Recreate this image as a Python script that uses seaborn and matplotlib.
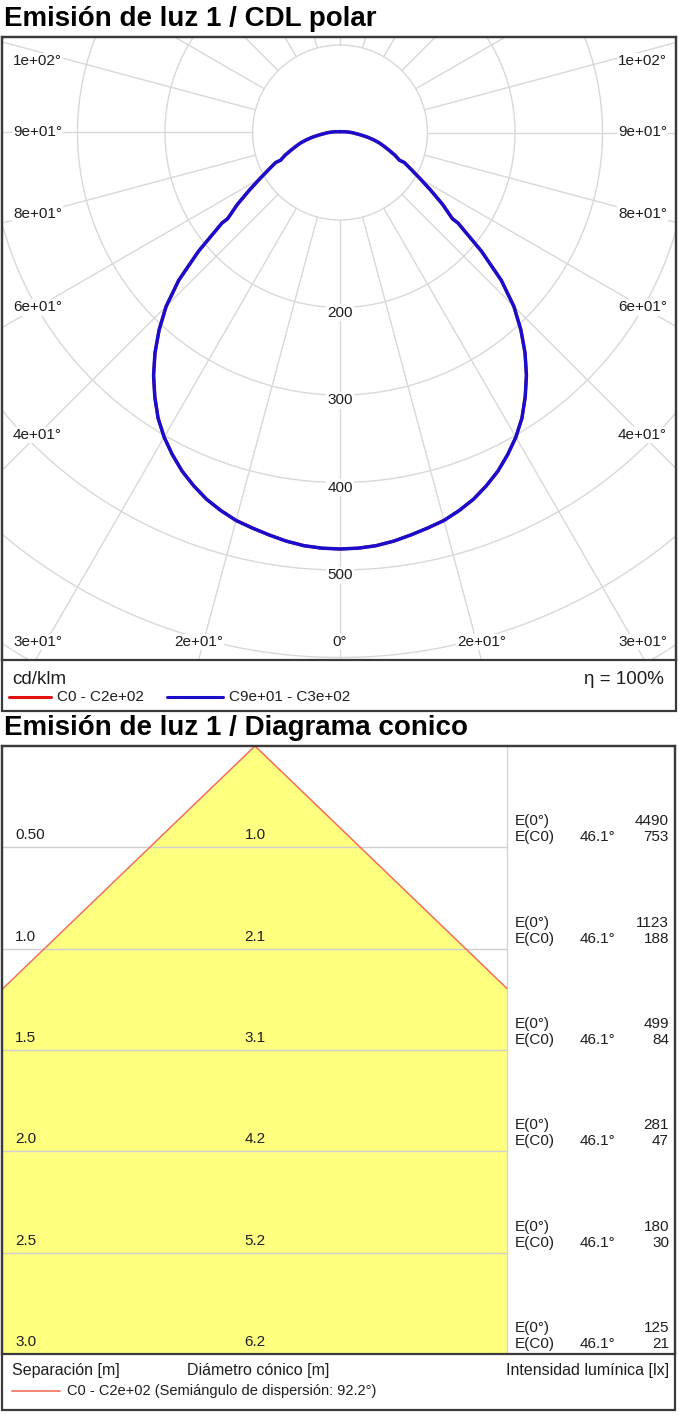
import numpy as np
import matplotlib
matplotlib.use('Agg')
import matplotlib.pyplot as plt
from matplotlib.lines import Line2D
from matplotlib.patches import Rectangle
import seaborn as sns

# polar curve, cd/klm against gamma angle (deg); C0-C180 and C90-C270 coincide
gamma = [0, 2.5, 5, 7.5, 10, 12.5, 15, 17.5, 20, 22.5, 25, 27.5, 30, 32.5, 35,
         37.5, 40, 42.5, 45, 47.5, 50, 52.5, 52.5, 55, 57.5, 60, 62.5, 65, 65,
         67.5, 70, 72.5, 75, 77.5, 80, 82.5, 85, 87.5, 90, 92.5, 95, 100, 110,
         130, 180]
intensity = [476, 475.5, 474, 471, 467, 463, 459, 453, 446, 437, 427, 415, 402,
             387, 369, 350, 329, 306, 281, 250, 211, 170, 162, 143, 123, 106, 92,
             81, 75, 68, 60, 53, 47, 40, 33, 26, 20, 16, 13, 10, 8, 5, 2.5,
             1.5, 1]
grid_radii = [100, 200, 300, 400, 500, 600, 700]
radial_labels = [200, 300, 400, 500]
angle_ticks = [0, 15, 30, 45, 60, 75, 90, 105]

# cone diagram
half_angle = 46.1
spread = 92.2
heights = [0.5, 1.0, 1.5, 2.0, 2.5, 3.0]
height_labels = ['0.50', '1.0', '1.5', '2.0', '2.5', '3.0']
diameters = ['1.0', '2.1', '3.1', '4.2', '5.2', '6.2']
e_center = [4490, 1123, 499, 281, 180, 125]
e_c0 = [753, 188, 84, 47, 30, 21]

sns.set_theme(style='white')
plt.rcParams['font.family'] = ['Liberation Sans', 'DejaVu Sans']

W, H = 679, 1422
fig = plt.figure(figsize=(W / 100, H / 100), dpi=100)


def px_axes(x0, y0, x1, y1):
    return fig.add_axes([x0 / W, 1 - y1 / H, (x1 - x0) / W, (y1 - y0) / H])


def ftext(x, y, s, **kw):
    fig.text(x / W, 1 - y / H, s, **kw)


def fline(x0, x1, y, **kw):
    fig.add_artist(Line2D([x0 / W, x1 / W], [1 - y / H] * 2, **kw))


def frame(x0, y0, x1, y1):
    fig.add_artist(Rectangle((x0 / W, 1 - y1 / H), (x1 - x0) / W, (y1 - y0) / H,
                             fill=False, ec='#3a3a3a', lw=1.6))


TXT = '#1e1e1e'
GRID = '#d8d8d8'

# ---------------- polar ----------------
ftext(4, 19, 'Emisión de luz 1 / CDL polar', fontsize=20, fontweight='bold',
      va='center', color='black')
frame(2, 37, 676, 711)

s = 0.875  # px per cd/klm
cx, cy = 340, 132.5
ax = px_axes(2, 37, 676, 660)
ax.set_xlim((2 - cx) / s, (676 - cx) / s)
ax.set_ylim(-(660 - cy) / s, (cy - 37) / s)
ax.set_xticks([])
ax.set_yticks([])
for sp in ax.spines.values():
    sp.set_color('#3a3a3a')
    sp.set_linewidth(1.6)

t = np.linspace(0, 2 * np.pi, 400)
for r in grid_radii:
    ax.plot(r * np.sin(t), r * np.cos(t), color=GRID, lw=1, zorder=1)
for a in np.arange(0, 360, 15):
    ar = np.radians(a)
    ax.plot([100 * np.sin(ar), 900 * np.sin(ar)], [-100 * np.cos(ar), -900 * np.cos(ar)],
            color=GRID, lw=1, zorder=1)

g = np.radians(np.array(gamma))
r = np.array(intensity)
full_g = np.concatenate([-g[::-1], g])
full_r = np.concatenate([r[::-1], r])
px_ = full_r * np.sin(full_g)
py_ = -full_r * np.cos(full_g)
sns.lineplot(x=px_, y=py_, sort=False, estimator=None, color='#e01010', lw=2.2, ax=ax, zorder=3)
sns.lineplot(x=px_, y=py_, sort=False, estimator=None, color='#1a0dcc', lw=2.5, ax=ax, zorder=4)

box = dict(facecolor='white', edgecolor='none', pad=1.0)
for rl in radial_labels:
    ax.text(0, -(rl + 6), str(rl), ha='center', va='center', fontsize=11, color=TXT,
            bbox=box, zorder=5)

# angle labels: on the spoke for the sides, straight above the frame hit at the bottom
x_in = (cx - 37.5) / s
y_edge = (660 - cy) / s
y_lab = (642 - cy) / s
y_top = (cy - 61) / s
for a in angle_ticks:
    lab = '0°' if a == 0 else '{:.0e}°'.format(a)
    ar = np.radians(a)
    if a < 90 and np.tan(ar) * y_edge <= (cx - 2) / s:
        xs, ys = min(y_edge * np.tan(ar), x_in), -y_lab
    else:
        xs = x_in
        ys = 0 if a == 90 else min(-x_in / np.tan(ar), y_top)
    for sgn in ([1] if a == 0 else [-1, 1]):
        ax.text(sgn * xs, ys, lab, ha='center', va='center', fontsize=11, color=TXT,
                bbox=box, zorder=5)

ftext(12, 680, 'cd/klm', fontsize=13.5, va='center', color=TXT)
ftext(664, 680, 'η = 100%', fontsize=13.5, va='center', ha='right', color=TXT)
fline(9, 51, 697, color='#e01010', lw=2.2)
ftext(57, 697, 'C0 - C2e+02', fontsize=11, va='center', color=TXT)
fline(167, 223, 697, color='#1a0dcc', lw=2.2)
ftext(229, 697, 'C9e+01 - C3e+02', fontsize=11, va='center', color=TXT)

# ---------------- cone ----------------
ftext(4, 728, 'Emisión de luz 1 / Diagrama conico', fontsize=20, fontweight='bold',
      va='center', color='black')
frame(2, 746, 675, 1410)

top, bot = 746, 1354
k = (bot - top) / 3.0  # px per m
ax0 = 255
ax2 = px_axes(2, top, 675, bot)
xl, xr = (2 - ax0) / k, (675 - ax0) / k
xsep = (507 - ax0) / k
ax2.set_xlim(xl, xr)
ax2.set_ylim(3.0, 0.0)
ax2.set_xticks([])
ax2.set_yticks([])
for sp in ax2.spines.values():
    sp.set_color('#3a3a3a')
    sp.set_linewidth(1.6)

tn = np.tan(np.radians(half_angle))
depth = np.linspace(0, 3.0, 301)
hw = depth * tn
ax2.fill_betweenx(depth, -np.minimum(hw, -xl), np.minimum(hw, xsep), color='#ffff80',
                  lw=0, zorder=1)
for sgn, lim in ((-1, -xl), (1, xsep)):
    d_hit = lim / tn
    sns.lineplot(x=[0, sgn * lim], y=[0, d_hit], sort=False, estimator=None,
                 color='#ef6f5a', lw=1.1, ax=ax2, zorder=3)
for h in heights[:-1]:
    ax2.plot([xl, xsep], [h, h], color='#cfcfcf', lw=1, zorder=2)
ax2.plot([xsep, xsep], [0, 3.0], color='#d4d4d4', lw=1, zorder=2)

fs = 11
for h, hl, dl, e0, e1 in zip(heights, height_labels, diameters, e_center, e_c0):
    yl = h - 12 / k
    ax2.text((15 - ax0) / k, yl, hl, fontsize=fs, va='center', color=TXT)
    ax2.text(0, yl, dl, fontsize=fs, va='center', ha='center', color=TXT)
    ax2.text((515 - ax0) / k, h - 26 / k, 'E(0°)', fontsize=fs, va='center', color=TXT)
    ax2.text((669 - ax0) / k, h - 26 / k, str(e0), fontsize=fs, va='center', ha='right', color=TXT)
    ax2.text((515 - ax0) / k, h - 10 / k, 'E(C0)', fontsize=fs, va='center', color=TXT)
    ax2.text((580 - ax0) / k, h - 10 / k, f'{half_angle}°', fontsize=fs, va='center', color=TXT)
    ax2.text((669 - ax0) / k, h - 10 / k, str(e1), fontsize=fs, va='center', ha='right', color=TXT)

ftext(12, 1370, 'Separación [m]', fontsize=11.5, va='center', color=TXT)
ftext(187, 1370, 'Diámetro cónico [m]', fontsize=11.5, va='center', color=TXT)
ftext(669, 1370, 'Intensidad lumínica [lx]', fontsize=11.5, va='center', ha='right', color=TXT)
fline(12, 60, 1391, color='#ef6f5a', lw=1.2)
ftext(67, 1391, f'C0 - C2e+02 (Semiángulo de dispersión: {spread}°)', fontsize=10.5,
      va='center', color=TXT)

fig.savefig('out.png', dpi=100, facecolor='white')
